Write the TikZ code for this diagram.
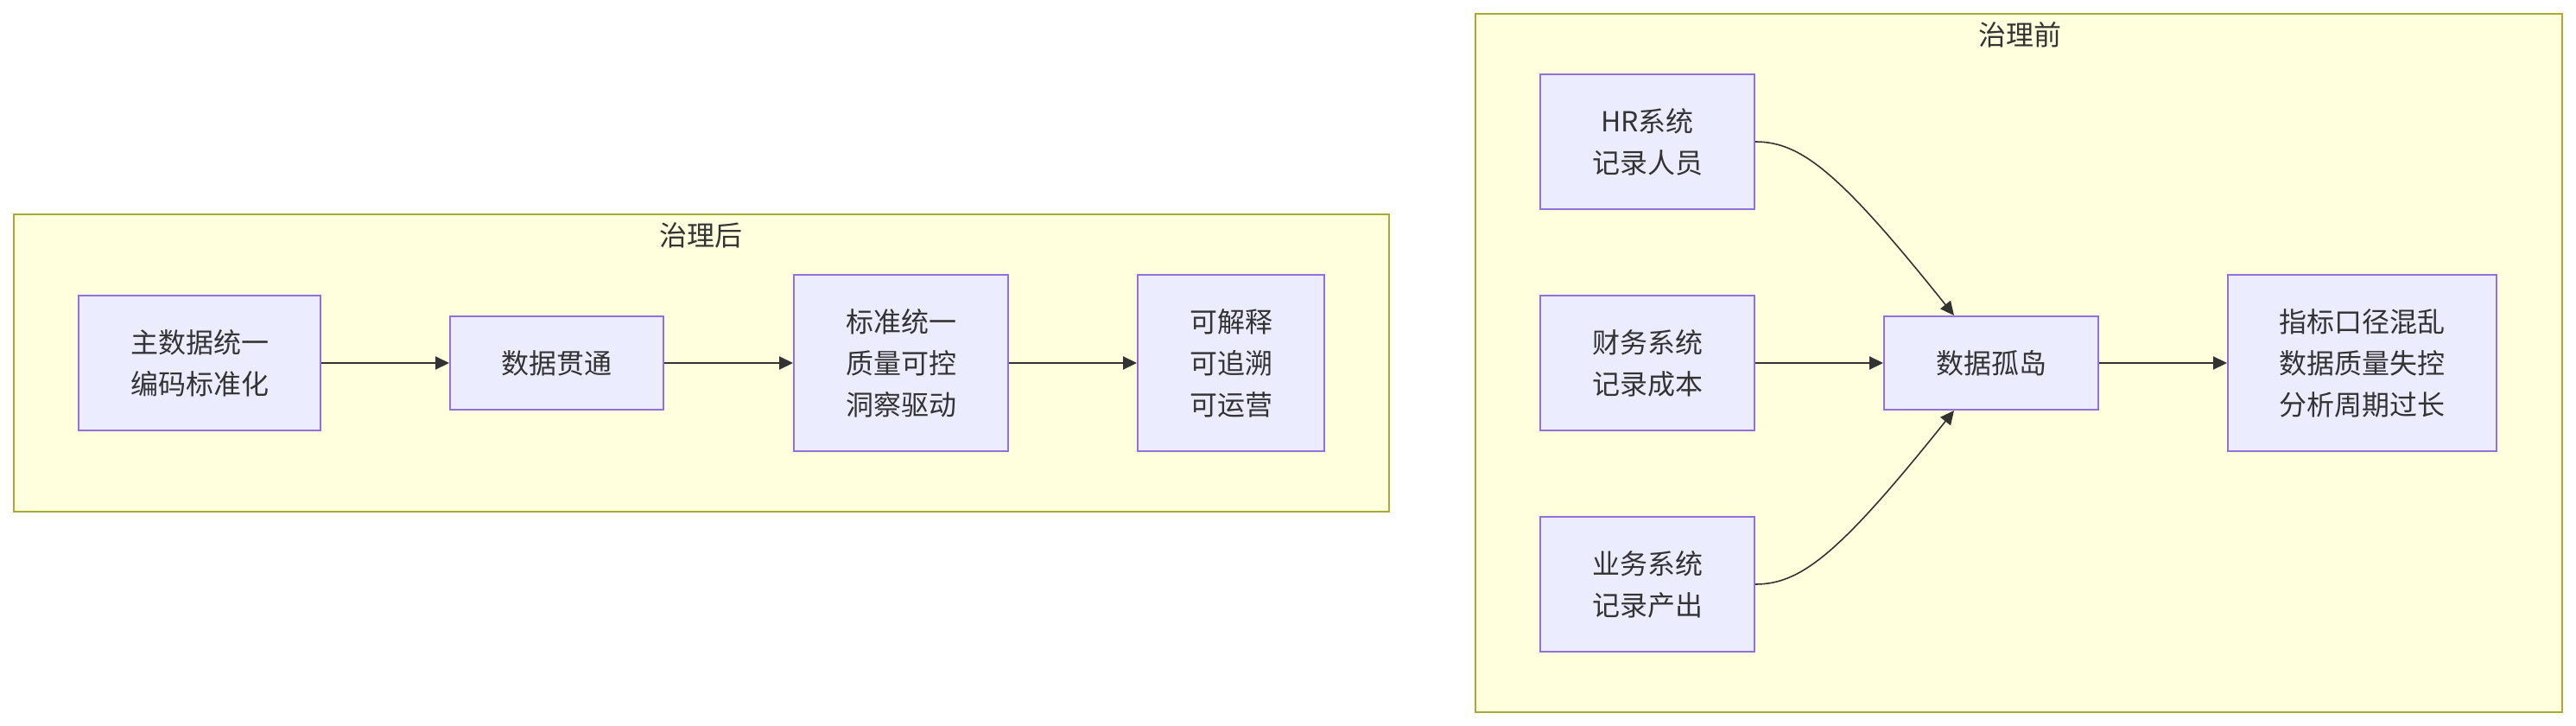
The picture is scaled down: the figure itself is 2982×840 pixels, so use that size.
\documentclass[tikz,border=0pt]{standalone}
\usepackage{fontspec}
\newfontfamily\cjk{Noto Sans CJK SC}
\usetikzlibrary{arrows.meta,calc}
\definecolor{clfill}{HTML}{FFFFDE}
\definecolor{cldraw}{HTML}{AAAA33}
\definecolor{ndfill}{HTML}{ECECFF}
\definecolor{nddraw}{HTML}{9370DB}
\definecolor{txt}{HTML}{333333}
\tikzset{
  cluster/.style={fill=clfill,draw=cldraw,line width=2pt},
  box/.style={fill=ndfill,draw=nddraw,line width=2pt,inner sep=0pt,align=center,text=txt,
    font=\cjk\fontsize{32}{48}\selectfont},
  ctitle/.style={text=txt,font=\cjk\fontsize{32}{48}\selectfont,inner sep=0pt},
  link/.style={draw=txt,line width=2pt,-{Triangle[length=16pt,width=15pt]}},
  clink/.style={draw=txt,line width=1.6pt,-{Triangle[length=16pt,width=15pt]}}
}
\begin{document}
\begin{tikzpicture}[x=1pt,y=-1pt]
\useasboundingbox (0,0) rectangle (2982,840);
% clusters
\draw[cluster] (16,248) rectangle (1608,592);
\node[ctitle] (t1) at (811,272) {治理后};
\draw[cluster] (1708,16) rectangle (2966,824);
\node[ctitle] (t2) at (2338,40) {治理前};
% left cluster nodes
\node[box,minimum width=280pt,minimum height=156pt] (a) at (231,420) {主数据统一\\编码标准化};
\node[box,minimum width=247pt,minimum height=108pt] (b) at (644.5,420) {数据贯通};
\node[box,minimum width=248pt,minimum height=204pt] (c) at (1043,420) {标准统一\\质量可控\\洞察驱动};
\node[box,minimum width=216pt,minimum height=204pt] (d) at (1425,420) {可解释\\可追溯\\可运营};
\draw[link] (a.east) -- (b.west);
\draw[link] (b.east) -- (c.west);
\draw[link] (c.east) -- (d.west);
% right cluster nodes
\node[box,minimum width=248pt,minimum height=156pt] (hr) at (1907,164) {HR系统\\记录人员};
\node[box,minimum width=248pt,minimum height=156pt] (cw) at (1907,420) {财务系统\\记录成本};
\node[box,minimum width=248pt,minimum height=156pt] (yw) at (1907,676) {业务系统\\记录产出};
\node[box,minimum width=248pt,minimum height=108pt] (gd) at (2305,420) {数据孤岛};
\node[box,minimum width=311pt,minimum height=204pt] (zb) at (2734.5,420) {指标口径混乱\\数据质量失控\\分析周期过长};
\coordinate (gdt) at ($(gd.north)+(-43,0)$);
\coordinate (gdb) at ($(gd.south)+(-43,0)$);
\draw[clink] (hr.east) .. controls +(53,0) and +(-132,-165) .. (gdt);
\draw[link] (cw.east) -- (gd.west);
\draw[clink] (yw.east) .. controls +(53,0) and +(-132,165) .. (gdb);
\draw[link] (gd.east) -- (zb.west);
\end{tikzpicture}
\end{document}
